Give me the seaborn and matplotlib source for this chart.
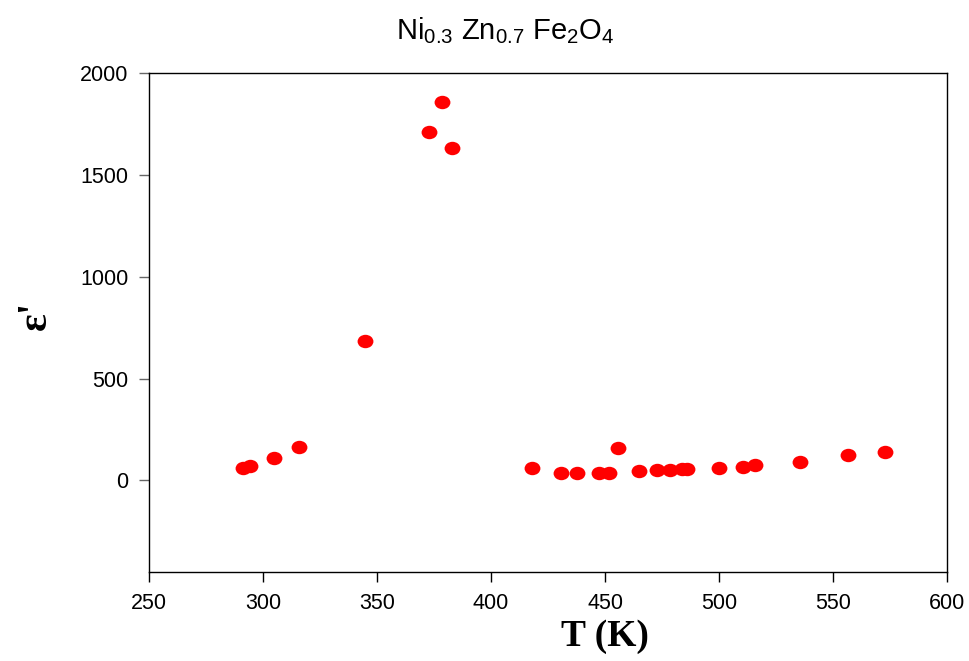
import matplotlib
matplotlib.use("Agg")
import matplotlib.pyplot as plt
import seaborn as sns
import pandas as pd
from matplotlib.path import Path
from matplotlib.transforms import Affine2D

T_K = [291.4, 294.1, 304.7, 315.8, 344.7, 372.8, 378.6, 382.7,
       417.8, 430.7, 437.6, 447.5, 451.8, 455.6, 464.7, 472.6, 478.4,
       483.8, 486.0, 499.8, 510.5, 515.9, 535.6, 556.5, 572.6]
eps = [61, 69, 112, 162, 684, 1709, 1856, 1633,
       59, 36, 38, 34, 34, 159, 46, 49, 53,
       56, 56, 62, 65, 75, 90, 126, 141]

x_ticks = [250, 300, 350, 400, 450, 500, 550, 600]
y_ticks = [0, 500, 1000, 1500, 2000]

df = pd.DataFrame({"T": T_K, "eps": eps})

sns.set_style("white")
plt.rcParams['font.family'] = ['Liberation Sans', 'DejaVu Sans']
plt.rcParams['mathtext.fontset'] = 'custom'
plt.rcParams['mathtext.rm'] = 'Liberation Sans'
plt.rcParams['mathtext.it'] = 'Liberation Sans'
plt.rcParams['text.color'] = 'black'
plt.rcParams['xtick.color'] = 'black'
plt.rcParams['ytick.color'] = 'black'

fig = plt.figure(figsize=(9.69, 6.61), dpi=100)
ax = fig.add_axes([149/969, 1-572/661, (947-149)/969, (572-73)/661])

ellipse = Path.unit_circle().transformed(Affine2D().scale(1.18, 1.0))

sns.scatterplot(data=df, x="T", y="eps", ax=ax, marker=ellipse, s=130,
                color="#ff0000", edgecolor="#ff0000", linewidth=0)

ax.set_xlim(250, 600)
ax.set_ylim(-450, 2000)
ax.set_xticks(x_ticks)
ax.set_yticks(y_ticks)
ax.set_xticklabels([str(v) for v in x_ticks], fontsize=15.5)
ax.set_yticklabels([str(v) for v in y_ticks], fontsize=15.5)
ax.tick_params(axis='both', direction='out', length=7, width=1, pad=8,
               bottom=True, left=True, top=False, right=False, labelcolor='black')
ax.tick_params(axis='y', color='#666666')
ax.tick_params(axis='x', color='black')
for s in ax.spines.values():
    s.set_color('black')
    s.set_linewidth(1)
ax.set_xlabel("")
ax.set_ylabel("")

fig.text(505/969, 1-31/661, r"Ni$_{0.3}$ Zn$_{0.7}$ Fe$_2$O$_4$", ha='center', va='center',
         fontsize=21, color='black')
fig.text(605/969, 1-636/661, "T (K)", ha='center', va='center', fontsize=27,
         fontweight='bold', color='black', family=['Liberation Serif', 'DejaVu Serif'])
fig.text(36/969, 1-315/661, "ε'", ha='center', va='center', fontsize=30, rotation=90,
         fontweight='bold', color='black', family=['Liberation Serif', 'DejaVu Serif'])

fig.savefig("out.png", dpi=100)
